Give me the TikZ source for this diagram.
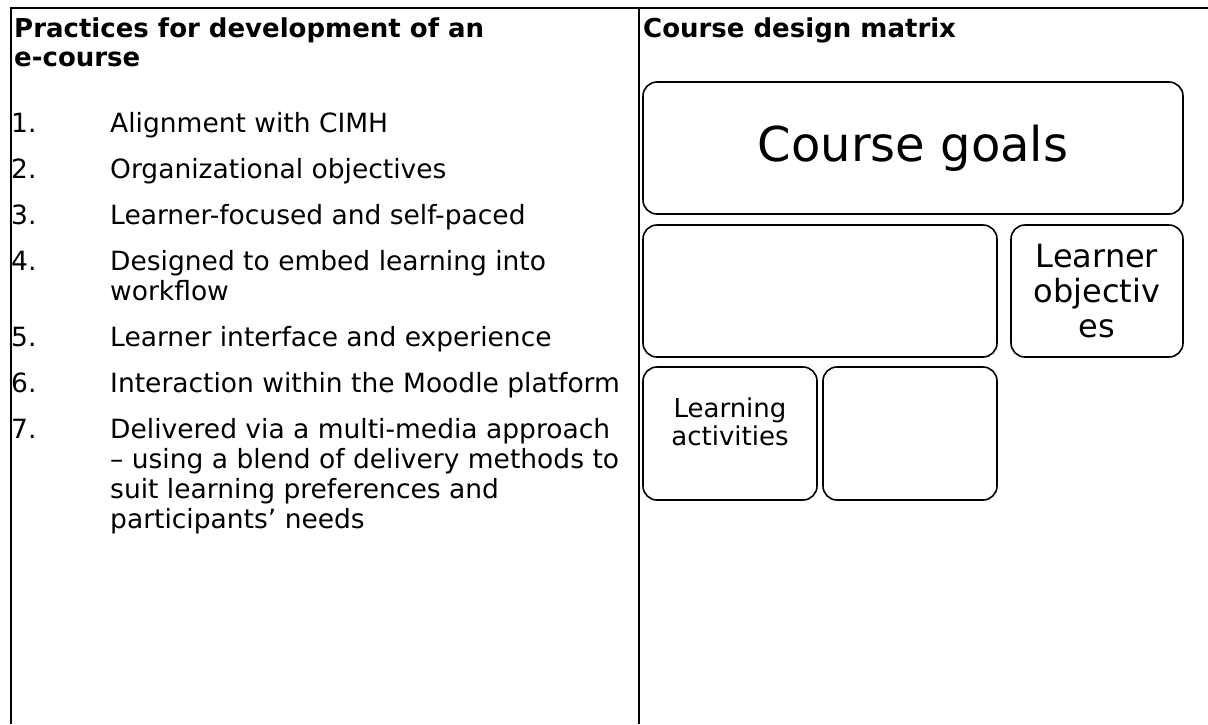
\documentclass[tikz,border=0pt]{standalone}
\usepackage{fontspec}
\setmainfont{DejaVu Sans}
\usetikzlibrary{positioning}
\tikzset{
  rule/.style={line width=2pt},
  mbox/.style={draw, line width=1.6pt, rounded corners=14pt, inner sep=0pt, align=center},
  head/.style={anchor=base west, inner sep=0pt, align=left, font=\fontsize{26}{30}\selectfont\bfseries},
  num/.style={anchor=base west, inner sep=0pt, font=\fontsize{26.5}{30}\selectfont},
  itemtext/.style={anchor=base west, inner sep=0pt, align=left, font=\fontsize{26.5}{30}\selectfont},
}

\begin{document}
\begin{tikzpicture}[x=1pt,y=-1pt]
\useasboundingbox (0,0) rectangle (1208,724);

% garis tabel
\coordinate (tl) at (11,8);
\coordinate (tr) at (1208,8);
\coordinate (bl) at (11,724);
\coordinate (mt) at (639,8);
\coordinate (mb) at (639,724);
\draw[rule] (tr) -- (tl) -- (bl);
\draw[rule] (mt) -- (mb);

% judul kolom
\node[head] (lefthead) at (14,37) {Practices for development of an};
\node[head] (lefthead2) at (14,66) {e-course};
\node[head] (righthead) at (643,37) {Course design matrix};

% daftar praktik
\node[num] (n1) at (11,132) {1.};
\node[itemtext] (t1) at (110,132) {Alignment with CIMH};
\node[num] (n2) at (11,178) {2.};
\node[itemtext] (t2) at (110,178) {Organizational objectives};
\node[num] (n3) at (11,224) {3.};
\node[itemtext] (t3) at (110,224) {Learner-focused and self-paced};
\node[num] (n4) at (11,270) {4.};
\node[itemtext] (t4) at (110,270) {Designed to embed learning into};
\node[itemtext] (t4b) at (110,300) {workflow};
\node[num] (n5) at (11,346) {5.};
\node[itemtext] (t5) at (110,346) {Learner interface and experience};
\node[num] (n6) at (11,392) {6.};
\node[itemtext] (t6) at (110,392) {Interaction within the Moodle platform};
\node[num] (n7) at (11,438) {7.};
\node[itemtext] (t7) at (110,438) {Delivered via a multi-media approach};
\node[itemtext] (t7b) at (110,468) {– using a blend of delivery methods to};
\node[itemtext] (t7c) at (110,498) {suit learning preferences and};
\node[itemtext] (t7d) at (110,528) {participants’ needs};

% matriks desain
\node[mbox, minimum width=540pt, minimum height=132pt, font=\fontsize{48}{56}\selectfont] (goals) at (913,148) {Course goals};
\node[mbox, minimum width=354pt, minimum height=132pt] (blankA) at (820,291) {};
\node[mbox, minimum width=172pt, minimum height=132pt, font=\fontsize{32}{35}\selectfont] (objectives) at (1097,291) {Learner\\objectiv\\es};
\node[mbox, minimum width=174pt, minimum height=133pt] (activities) at (730,433.5) {};
\node[mbox, minimum width=174pt, minimum height=133pt] (blankB) at (910,433.5) {};
\node[inner sep=0pt, align=center, font=\fontsize{26}{28}\selectfont, yshift=12pt] (actlabel) at (activities.center) {Learning\\activities};

\end{tikzpicture}
\end{document}
